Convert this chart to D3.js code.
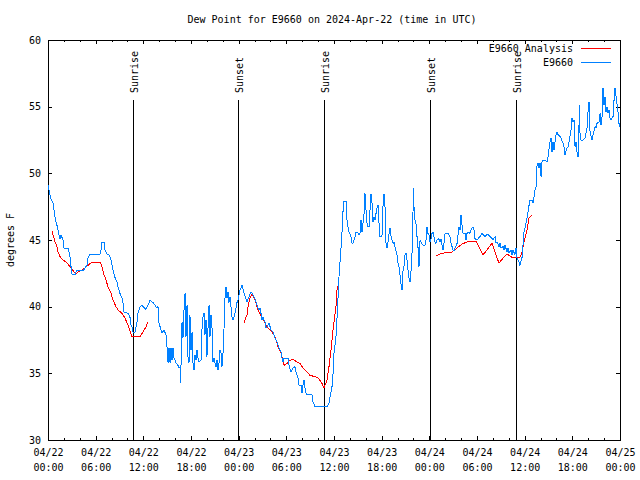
<!DOCTYPE html>
<html><head><meta charset="utf-8">
<script src="https://cdn.jsdelivr.net/npm/d3@7"></script>
<style>
body{margin:0;background:#fff}
svg{display:block;background:#fff}
text{font-family:"DejaVu Sans Mono",monospace;font-size:10px;fill:#000}
</style>
</head><body><svg id="c" width="640" height="480"></svg>
<script>
const title = "Dew Point for E9660 on 2024-Apr-22 (time in UTC)";
const yLabel = "degrees F";
const startUTC = Date.UTC(2024,3,22,0,0);
const endUTC = Date.UTC(2024,3,25,0,0);
const yTicks = [30,35,40,45,50,55,60];
const seriesNames = ["E9660 Analysis","E9660"];
const seriesColors = ["#ff0000","#0080ff"];

// E9660 observations: hours since 2024-04-22 00:00 UTC, dew point (F)
const obsHours = [0.00,0.13,0.25,0.38,0.63,0.76,0.88,1.01,1.13,1.26,1.38,1.51,1.64,1.76,1.89,2.01,2.52,2.64,2.77,2.90,3.02,3.40,3.52,3.65,4.41,4.66,4.91,5.04,5.29,6.55,6.67,6.80,7.05,7.18,7.43,7.68,7.93,8.18,8.43,8.69,8.81,9.06,9.32,9.44,9.57,10.07,10.32,10.45,10.57,10.70,10.95,11.20,11.33,11.58,11.83,12.34,12.59,12.84,13.09,13.22,13.47,13.72,13.85,13.97,14.22,14.35,14.60,14.85,14.98,15.11,15.23,15.36,15.48,15.61,15.74,15.86,16.11,16.36,16.49,16.62,16.68,16.74,16.87,16.99,17.12,17.25,17.37,17.50,17.62,17.75,17.87,18.00,18.13,18.25,18.38,18.50,18.63,18.76,18.88,19.01,19.26,19.39,19.51,19.64,19.76,19.89,20.01,20.14,20.27,20.39,20.52,20.64,20.77,20.90,21.02,21.15,21.27,21.40,21.53,21.65,21.78,21.90,22.03,22.15,22.28,22.41,22.53,22.66,22.78,22.91,23.16,23.29,23.54,23.79,23.92,24.17,24.42,24.67,25.05,25.30,25.55,25.68,25.93,26.18,26.43,26.56,26.69,26.81,26.94,27.06,27.32,27.44,27.57,27.82,27.95,28.07,28.32,28.45,28.57,28.83,28.95,29.08,29.33,29.46,29.58,29.71,30.21,30.34,30.59,30.71,30.84,31.09,31.22,31.34,31.47,31.60,31.85,31.97,32.10,32.23,32.35,32.48,32.60,33.23,33.36,33.61,35.12,35.37,35.50,35.75,35.88,36.00,36.25,36.38,36.51,36.63,36.76,36.88,37.01,37.13,37.26,37.51,37.64,37.76,37.89,38.14,38.27,38.39,38.65,38.77,38.90,39.15,39.27,39.40,39.53,39.65,39.78,39.90,40.03,40.16,40.28,40.41,40.53,40.66,40.79,40.91,41.04,41.16,41.29,41.41,41.54,41.67,41.79,42.04,42.17,42.30,42.42,42.55,42.67,42.80,42.93,43.05,43.18,43.30,43.43,43.55,43.68,43.93,44.06,44.18,44.31,44.44,44.56,44.69,44.81,44.94,45.07,45.19,45.32,45.44,45.57,45.69,45.82,45.95,46.01,46.07,46.20,46.32,46.45,46.58,46.70,46.83,46.95,47.21,47.46,47.58,47.71,47.83,47.96,48.09,48.21,48.34,48.46,48.72,48.84,48.97,49.22,49.35,49.47,49.60,49.72,49.85,49.98,50.35,50.60,50.73,50.86,50.98,51.11,51.23,51.49,51.61,51.74,51.86,51.99,52.11,52.24,52.49,52.62,52.74,52.99,53.12,53.25,53.50,53.62,53.75,54.00,54.13,54.38,54.63,54.76,55.01,55.26,55.39,55.64,55.89,56.02,56.27,56.39,56.52,56.77,56.90,57.02,57.28,57.40,57.53,57.78,57.90,58.03,58.28,58.41,58.53,58.78,58.91,59.04,59.29,59.41,59.67,59.79,59.92,60.17,60.30,60.42,60.55,60.67,60.93,61.05,61.30,61.43,61.56,61.68,61.81,61.93,62.06,62.18,62.31,62.56,62.81,62.94,63.19,63.32,63.44,63.57,63.70,63.82,63.95,64.07,64.20,64.45,64.58,64.83,64.95,65.08,65.33,65.46,65.58,65.84,65.96,66.09,66.21,66.34,66.47,66.59,66.72,66.84,66.91,66.97,67.09,67.35,67.60,67.85,67.97,68.10,68.16,68.23,68.48,68.60,68.86,68.98,69.11,69.36,69.49,69.61,69.74,69.86,69.99,70.12,70.24,70.37,70.49,70.62,70.75,70.87,71.12,71.25,71.37,71.62,71.75,71.87,72.00];
const obsValues = [49.1,48.75,48.4,48.1,47.8,47.25,46.7,46.35,46.1,45.75,45.4,45.1,45.4,45.2,45.0,44.4,44.4,44.1,43.7,43.0,42.45,42.4,42.6,42.7,42.7,42.9,43.1,43.65,43.95,43.95,44.25,44.85,44.85,44.25,43.95,43.9,43.5,42.75,42.2,41.85,41.5,41.0,40.65,40.3,39.6,39.5,39.2,38.6,38.5,38.1,38.1,38.8,39.5,40.0,40.1,39.8,40.1,40.5,40.35,40.3,40.1,39.9,40.0,38.8,38.25,38.0,38.25,37.9,37.0,35.8,36.9,35.8,36.9,36.0,36.9,36.15,35.8,35.6,35.4,35.5,34.3,35.6,38.85,37.65,39.75,41.0,37.75,40.1,36.25,35.8,39.4,36.75,38.1,35.8,35.25,36.4,36.0,36.75,36.15,35.85,36.0,38.4,39.2,39.5,37.9,39.0,36.25,38.4,40.1,37.75,39.4,38.5,35.85,36.15,35.8,35.5,36.0,35.25,35.8,36.75,36.5,35.5,36.5,38.25,40.65,41.5,40.65,41.1,40.3,40.75,39.2,39.0,39.5,40.3,40.5,41.25,41.6,41.0,40.35,40.75,41.1,41.0,40.75,40.35,39.9,39.75,39.9,39.5,39.0,39.2,38.85,38.4,38.5,38.8,38.5,38.25,38.1,37.9,37.65,37.35,37.1,36.9,36.6,36.15,35.85,36.15,36.15,35.6,35.1,35.25,35.4,35.5,35.1,34.85,34.65,34.1,34.1,33.5,34.1,34.5,33.9,33.5,33.4,33.4,32.85,32.5,32.5,32.8,33.25,34.0,35.0,36.5,37.75,39.2,40.75,42.25,43.35,44.4,45.6,47.1,47.9,47.9,46.5,46.0,45.6,45.25,44.75,44.75,45.25,45.6,45.6,45.4,45.5,46.5,45.6,46.25,47.0,48.5,47.25,46.25,46.0,46.0,47.25,48.45,47.75,46.35,46.7,46.5,47.0,47.4,47.6,46.25,45.25,45.25,47.6,48.45,47.5,44.75,44.4,44.85,45.5,45.9,45.25,45.0,44.75,44.85,44.5,43.9,43.25,43.0,42.4,41.65,41.25,42.75,43.0,43.9,44.0,43.5,42.75,42.15,41.85,42.6,44.0,47.25,48.9,47.5,46.5,46.25,45.25,44.4,43.0,45.0,44.85,44.6,44.6,45.0,46.0,45.5,45.4,44.85,45.1,45.5,45.6,44.85,44.75,45.0,45.1,44.85,45.1,44.6,44.25,44.75,45.5,45.5,45.25,44.75,44.5,44.25,44.2,44.4,44.75,45.4,46.0,45.75,46.9,46.15,45.5,45.5,45.0,45.5,45.6,45.5,45.75,46.0,45.75,45.1,45.0,45.1,45.25,45.5,45.4,45.25,45.4,45.4,45.25,45.1,45.0,45.25,44.75,44.85,44.5,44.75,44.4,44.5,44.25,44.6,44.1,44.4,44.0,44.25,43.9,44.25,43.9,44.4,43.65,43.35,43.1,43.7,44.6,45.6,46.25,46.65,47.1,47.6,48.0,48.0,47.75,48.75,49.0,50.6,50.75,50.4,50.75,49.75,50.85,51.0,51.0,50.85,51.25,52.35,52.65,51.6,52.35,51.75,52.35,52.9,53.1,52.9,52.75,52.65,52.25,52.0,51.4,51.9,52.0,52.35,53.25,54.15,53.85,54.0,52.0,52.35,51.6,51.25,53.6,55.1,52.9,52.5,52.5,52.65,53.4,54.6,55.35,54.0,53.1,52.5,52.9,53.5,53.4,53.75,53.85,54.5,53.6,54.25,56.4,55.1,55.75,54.6,54.95,54.5,54.75,54.15,54.0,54.25,55.5,56.4,55.25,54.6,53.75,53.5];

// E9660 Analysis: null marks a gap between segments
const anaHours = [0.50,0.63,0.88,1.13,1.26,1.51,1.89,2.39,2.77,3.15,3.52,3.78,4.28,4.66,5.04,5.54,6.55,6.80,7.05,7.30,7.55,7.93,8.18,8.56,8.81,9.32,9.69,10.07,10.57,11.58,11.96,12.34,12.59,null,24.67,25.05,25.18,25.43,25.68,25.93,26.18,26.43,26.94,27.32,27.69,28.20,28.57,28.95,29.33,29.58,29.71,30.09,30.34,30.84,31.34,31.72,32.10,32.60,32.98,33.61,33.99,34.49,34.74,35.12,35.37,35.63,35.88,36.25,36.38,36.63,null,48.84,49.35,49.98,50.86,51.49,52.11,52.74,53.37,53.88,54.25,54.76,55.26,55.89,56.27,56.77,57.28,57.78,58.41,59.04,59.41,59.67,59.92,60.30,60.55,60.93];
const anaValues = [45.7,45.4,44.85,44.5,44.1,43.75,43.5,43.3,43.0,42.7,42.45,42.6,42.75,42.9,43.1,43.35,43.35,43.0,42.4,42.0,41.5,41.0,40.5,40.0,39.75,39.5,39.15,38.6,37.75,37.75,38.1,38.5,38.85,null,38.8,39.4,40.0,40.65,40.95,40.65,40.3,39.75,39.2,38.75,38.4,38.1,37.75,37.0,36.5,36.0,35.6,35.75,35.95,36.05,35.85,35.75,35.4,35.1,34.85,34.75,34.65,34.25,33.9,34.5,35.5,36.75,38.25,40.0,41.25,41.85,null,43.8,43.95,44.05,44.1,44.4,44.7,44.85,44.9,44.9,44.5,43.9,44.25,44.75,44.1,43.25,43.65,43.95,43.7,43.65,43.7,44.1,44.85,45.75,46.65,46.9];

const eventHours = [10.64, 23.92, 34.74, 48.09, 58.91];
const eventLabels = ["Sunrise","Sunset","Sunrise","Sunset","Sunrise"];

const svg = d3.select("#c");
const L = 48, R = 620, T = 40, B = 440;
const toDate = h => new Date(startUTC + h*3600000);
const x = d3.scaleUtc().domain([new Date(startUTC), new Date(endUTC)]).range([L, R]);
const y = d3.scaleLinear().domain([30, 60]).range([B, T]);

// minor ticks (every 2 h) bottom/top
svg.append("g").attr("transform",`translate(0,${B})`)
  .call(d3.axisBottom(x).ticks(d3.utcHour.every(2)).tickSize(-2).tickFormat(""))
  .call(g=>g.select(".domain").remove());
svg.append("g").attr("transform",`translate(0,${T})`)
  .call(d3.axisTop(x).ticks(d3.utcHour.every(2)).tickSize(-2).tickFormat(""))
  .call(g=>g.select(".domain").remove());
// major ticks (every 6 h)
const fmtD = d3.utcFormat("%m/%d"), fmtT = d3.utcFormat("%H:%M");
const xb = svg.append("g").attr("transform",`translate(0,${B})`)
  .call(d3.axisBottom(x).ticks(d3.utcHour.every(6)).tickSize(-4).tickPadding(9).tickFormat(d=>fmtD(d)))
  .call(g=>g.select(".domain").remove());
xb.selectAll(".tick text").each(function(d){
  const t = d3.select(this);
  t.text(null).attr("dy",null).attr("fill",null);
  t.append("tspan").attr("x",0).attr("dy","0.71em").text(fmtD(d));
  t.append("tspan").attr("x",0).attr("dy","1.5em").text(fmtT(d));
});
xb.selectAll("text").attr("font-family",null).attr("font-size",null);
svg.append("g").attr("transform",`translate(0,${T})`)
  .call(d3.axisTop(x).ticks(d3.utcHour.every(6)).tickSize(-4).tickFormat(""))
  .call(g=>g.select(".domain").remove());
// y ticks
const yl = svg.append("g").attr("transform",`translate(${L},0)`)
  .call(d3.axisLeft(y).tickValues(yTicks).tickSize(-4).tickPadding(7))
  .call(g=>g.select(".domain").remove());
yl.selectAll("text").attr("font-family",null).attr("font-size",null).attr("fill",null);
svg.append("g").attr("transform",`translate(${R},0)`)
  .call(d3.axisRight(y).tickValues(yTicks).tickSize(-4).tickFormat(""))
  .call(g=>g.select(".domain").remove());
svg.selectAll(".tick line").attr("stroke","#000").attr("shape-rendering","crispEdges");

// border
svg.append("rect").attr("x",L+0.5).attr("y",T+0.5).attr("width",R-L).attr("height",B-T)
  .attr("fill","none").attr("stroke","#000").attr("shape-rendering","crispEdges");

// event lines
const ev = svg.append("g");
eventHours.forEach((h,i)=>{
  const xp = Math.round(x(toDate(h)))+0.5;
  ev.append("line").attr("x1",xp).attr("x2",xp).attr("y1",100).attr("y2",B)
    .attr("stroke","#000").attr("shape-rendering","crispEdges");
  ev.append("text").attr("transform",`translate(${xp+4},93) rotate(-90)`)
    .attr("text-anchor","start").text(eventLabels[i]);
});

// series
const obs = obsHours.map((h,i)=>({t:toDate(h), v:obsValues[i]}));
const ana = anaHours.map((h,i)=>({t:h==null?null:toDate(h), v:anaValues[i]}));
const line = d3.line().defined(d=>d.v!=null).x(d=>x(d.t)).y(d=>y(d.v));
svg.append("path").datum(ana).attr("d",line).attr("fill","none")
  .attr("stroke",seriesColors[0]).attr("stroke-width",1).attr("shape-rendering","crispEdges");
svg.append("path").datum(obs).attr("d",line).attr("fill","none")
  .attr("stroke",seriesColors[1]).attr("stroke-width",1).attr("shape-rendering","crispEdges");

// legend
seriesNames.forEach((n,i)=>{
  const yy = 48 + i*14;
  svg.append("text").attr("x",573).attr("y",yy).attr("dy","0.35em").attr("text-anchor","end").text(n);
  svg.append("line").attr("x1",581).attr("x2",611).attr("y1",yy+0.5).attr("y2",yy+0.5)
    .attr("stroke",seriesColors[i]).attr("shape-rendering","crispEdges");
});

// title and y label
svg.append("text").attr("x",(L+R)/2-2).attr("y",19).attr("dy","0.35em").attr("text-anchor","middle").text(title);
svg.append("text").attr("transform",`translate(10,${(T+B)/2}) rotate(-90)`)
  .attr("text-anchor","middle").attr("dy","0.35em").text(yLabel);
</script></body></html>
